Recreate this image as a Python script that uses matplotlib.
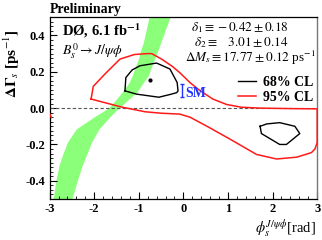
import numpy as np
import matplotlib
matplotlib.use("Agg")
import matplotlib.pyplot as plt
from matplotlib.lines import Line2D

plt.rcParams['font.family'] = ['Liberation Serif', 'DejaVu Serif']
plt.rcParams['mathtext.fontset'] = 'stix'

# Green theory band: left and right edges (y -> x)
band_y = [-0.50, -0.40, -0.316, -0.25, -0.187, -0.114, -0.04, 0.0, 0.05, 0.086, 0.14, 0.178, 0.27, 0.325, 0.36, 0.50]
band_left = [-2.92, -2.86, -2.79, -2.70, -2.60, -2.40, -1.95, -1.68, -1.50, -1.38, -1.22, -1.15, -1.01, -0.95, -0.90, -0.77]
band_right = [-2.50, -2.38, -2.27, -2.16, -2.06, -1.89, -1.62, -1.45, -1.22, -1.05, -0.90, -0.79, -0.65, -0.56, -0.51, -0.30]

# 95% CL contour
cl95_x = [-2.07, -2.02, -1.75, -1.42, -1.10, -0.82, -0.71, -0.49, -0.25, -0.08, 0.15, 0.37, 0.66, 0.97, 1.30, 1.71, 2.50, 3.00,
          3.00, 2.95, 2.87, 2.54, 2.09, 1.64, 1.04, 0.53, 0.15, -0.08, -0.50, -0.86, -1.37, -1.76, -2.07]
cl95_y = [0.05, 0.12, 0.19, 0.27, 0.295, 0.30, 0.30, 0.27, 0.23, 0.195, 0.14, 0.097, 0.05, 0.02, 0.005, 0.0, -0.003, -0.004,
          -0.19, -0.225, -0.245, -0.27, -0.28, -0.255, -0.17, -0.10, -0.05, -0.033, -0.028, -0.02, 0.005, 0.03, 0.05]
cl95_wrap_x = [-3.0, -2.96]
cl95_wrap_y = [-0.03, -0.052]

# 68% CL contours
cl68a_x = [-1.31, -1.29, -1.15, -0.975, -0.60, -0.30, -0.14, -0.12, -0.15, -0.30, -0.55, -1.05, -1.31, -1.31]
cl68a_y = [0.095, 0.168, 0.21, 0.233, 0.248, 0.215, 0.141, 0.095, 0.085, 0.075, 0.06, 0.077, 0.095, 0.095]
cl68b_x = [1.72, 1.75, 2.16, 2.31, 2.61, 2.50, 2.16, 1.87, 1.72]
cl68b_y = [-0.10, -0.14, -0.20, -0.20, -0.14, -0.10, -0.08, -0.087, -0.10]

best_fit = (-0.75, 0.154)
sm_point = (-0.04, 0.097)
sm_err = 0.037

x_ticks = [-3, -2, -1, 0, 1, 2, 3]
x_ticklabels = ['-3', '-2', '-1', '0', '1', '2', '3']
y_ticks = [-0.4, -0.2, 0.0, 0.2, 0.4]
y_ticklabels = ['-0.4', '-0.2', '0.0', '0.2', '0.4']

fig = plt.figure(figsize=(3.22, 2.40), dpi=100)
ax = fig.add_axes([0.154, 0.171, 0.831, 0.757])

ax.fill_betweenx(band_y, band_left, band_right, color='#8cff7a', lw=0, zorder=1)
ax.axhline(0, color='#555555', lw=0.8, ls=(0, (3, 2)), zorder=2)
ax.plot(cl95_x, cl95_y, color='#ff1a1a', lw=1.1, zorder=3, clip_on=False)
ax.plot(cl95_wrap_x, cl95_wrap_y, color='#ff1a1a', lw=1.1, zorder=3)
ax.plot(cl68a_x, cl68a_y, color='black', lw=1.0, zorder=4)
ax.plot(cl68b_x, cl68b_y, color='black', lw=1.0, zorder=4)
ax.plot([best_fit[0]], [best_fit[1]], 'o', color='black', ms=2, zorder=5)
ax.errorbar([sm_point[0]], [sm_point[1]], yerr=[sm_err], color='#2233ff', lw=1.0, capsize=1.2, zorder=5)
ax.text(sm_point[0] + 0.08, sm_point[1] - 0.015, 'SM', color='#2233ff', fontsize=10, fontweight='bold',
        ha='left', va='center')

ax.set_xlim(-3, 3)
ax.set_ylim(-0.5, 0.5)
ax.set_xticks(x_ticks)
ax.set_xticklabels(x_ticklabels, fontweight='bold', fontsize=9)
ax.set_yticks(y_ticks)
ax.set_yticklabels(y_ticklabels, fontweight='bold', fontsize=9)
ax.set_xticks(np.arange(-3, 3.01, 0.2), minor=True)
ax.set_yticks(np.arange(-0.5, 0.501, 0.025), minor=True)
ax.tick_params(which='major', direction='in', length=5, width=0.8, top=False, right=False, pad=3)
ax.tick_params(which='minor', direction='in', length=2.5, width=0.6, top=False, right=False)
for s in ['left', 'bottom', 'top']:
    ax.spines[s].set_linewidth(0.9)
ax.spines['right'].set_color('#777777')
ax.spines['right'].set_linewidth(1.0)

fig.text(50/322, 1 - 9/240, 'Preliminary', fontsize=10, fontweight='bold', ha='left', va='center')
ax.text(0.045, 0.925, 'DØ, 6.1 fb$^{\\mathbf{-1}}$', transform=ax.transAxes, fontsize=10.5, fontweight='bold',
        ha='left', va='center')
ax.text(0.045, 0.81, r'$B_s^0 \rightarrow J/\psi\phi$', transform=ax.transAxes, fontsize=10,
        ha='left', va='center')

fig.text(289/322, 1 - 28/240, r'$\delta_1 \equiv -0.42 \pm 0.18$', fontsize=9.5, ha='right', va='center')
fig.text(289/322, 1 - 43/240, r'$\delta_2 \equiv\ \ \ 3.01 \pm 0.14$', fontsize=9.5, ha='right', va='center')
fig.text(316/322, 1 - 58/240, r'$\Delta M_s \equiv 17.77 \pm 0.12$ ps$^{-1}$', fontsize=9.5, ha='right', va='center')

handles = [Line2D([], [], color='black', lw=1.0), Line2D([], [], color='#ff1a1a', lw=1.1)]
ax.legend(handles, ['68% CL', '95% CL'], loc='upper right', bbox_to_anchor=(1.0, 0.70), frameon=False,
          prop={'weight': 'bold', 'size': 10}, handlelength=1.3, handletextpad=0.5, labelspacing=0.15,
          borderpad=0.1, borderaxespad=0.2)

fig.text(12/322, 1 - 64/240, r'$\mathbf{\Delta\Gamma}_{\mathit{s}}$ [ps$^{-1}$]', fontsize=11, fontweight='bold',
         rotation=90, ha='center', va='center')
fig.text(316/322, 1 - 229/240, r'$\phi_s^{J/\psi\phi}$[rad]', fontsize=10.5, ha='right', va='center')

fig.savefig('out.png', dpi=100)
